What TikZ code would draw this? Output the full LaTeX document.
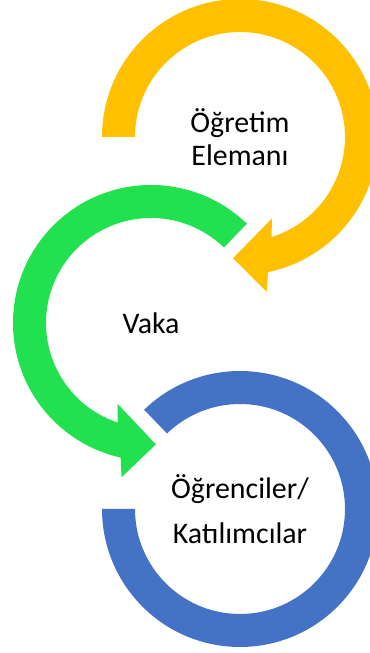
\documentclass[tikz,border=0pt]{standalone}
\usepackage{fontspec}
\setmainfont{Carlito}
\definecolor{ringyellow}{HTML}{FFC000}
\definecolor{ringgreen}{HTML}{22E14E}
\definecolor{ringblue}{HTML}{4472C4}
\begin{document}
\begin{tikzpicture}[
    x=0.2mm, y=0.2mm,
    ring/.style={draw=none},
    teacher/.style={ring, fill=ringyellow},
    case/.style={ring, fill=ringgreen},
    students/.style={ring, fill=ringblue},
    ringtext/.style={align=center, inner sep=0pt,
                     font=\fontsize{17}{18.8}\selectfont},
]

% Cornice
\useasboundingbox (0,0) rectangle (370,653);
\clip (0,0) rectangle (370,653);

% Centri
\coordinate (yc) at (240,516);
\coordinate (gc) at (151,330);
\coordinate (bc) at (240,144);

% Freccia gialla
\begin{scope}[shift={(yc)}]
\fill[teacher] (180:138) arc[start angle=180, end angle=-78.3, radius=138]
    -- (-80.2:157) -- (-93.3:121.5) -- (-68.6:87.5) -- (-72.5:105)
    arc[start angle=-72.5, end angle=180, radius=105] -- cycle;
\end{scope}

% Freccia verde
\begin{scope}[shift={(gc)}]
\fill[case] (46:138) arc[start angle=46, end angle=257.3, radius=138]
    -- (259.2:157) -- (272.3:121.5) -- (247.6:87.5) -- (251.5:105)
    arc[start angle=251.5, end angle=46, radius=105] -- cycle;
\end{scope}

% Anello blu
\begin{scope}[shift={(bc)}]
\fill[students] (134:138) arc[start angle=134, end angle=-180, radius=138]
    -- (-180:105)
    arc[start angle=-180, end angle=134, radius=105] -- cycle;
\end{scope}

% Testi
\node[ringtext] (teacherlbl) at (yc) {Öğretim\\Elemanı};
\node[ringtext] (caselbl) at (gc) {Vaka};
\node[ringtext] (studentslbl) at (bc) {Öğrenciler/\\[6.8pt]Katılımcılar};

\end{tikzpicture}
\end{document}
